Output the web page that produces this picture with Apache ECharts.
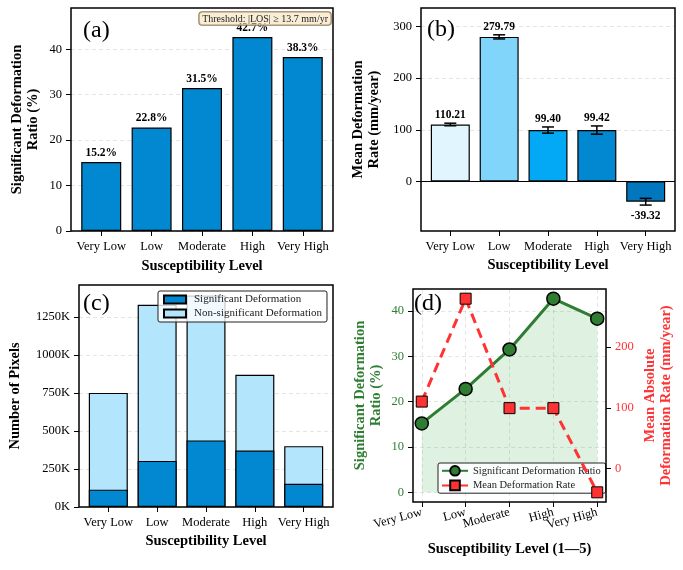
<!DOCTYPE html>
<html>
<head>
<meta charset="utf-8">
<script src="https://cdn.jsdelivr.net/npm/echarts@6.0.0/dist/echarts.min.js"></script>
<style>
  html, body { margin: 0; padding: 0; background: #fff; }
  #chart { width: 683px; height: 570px; }
</style>
</head>
<body>
<div id="chart"></div>
<script>
// 数据
const levels = ["Very Low", "Low", "Moderate", "High", "Very High"];
const sigRatio = [15.2, 22.8, 31.5, 42.7, 38.3];
const meanRate = [110.21, 279.79, 99.40, 99.42, -39.32];
const rateErr = [2.5, 4, 6, 8, 6.5];
const sigPixelsK = [114, 303, 438, 371, 153];
const nonSigPixelsK = [636, 1026, 952, 498, 247];

const ticksA = [0, 10, 20, 30, 40];
const ticksB = [0, 100, 200, 300];
const ticksC = [0, 250, 500, 750, 1000, 1250];
const ticksDLeft = [0, 10, 20, 30, 40];
const ticksDRight = [0, 100, 200];
const levelTicks = [0, 1, 2, 3, 4];
// (d) 的 X 轴标签分两组绘制，避免重叠的标签被自动隐藏
const levelTicksD1 = [0, 1, 2, 4];
const levelTicksD2 = [3];

// 样式
const FONT = '"Liberation Serif", "Times New Roman", serif';
const BAR_A = "#0288D1";
const BAR_B = ["#E1F5FE", "#81D4FA", "#03A9F4", "#0288D1", "#0277BD"];
const SIG_C = "#0288D1";
const NONSIG_C = "#B3E5FC";
const GREEN = "#2E7D32";
const RED = "#FF3333";

const chart = echarts.init(document.getElementById("chart"));

const gridLine = { show: true, lineStyle: { color: "rgba(0,0,0,0.13)", type: [4, 3], width: 0.8 } };

function xAxisCfg(gridIndex, min, max, name, nameGap, extra) {
   return Object.assign({
      type: "value",
      gridIndex: gridIndex,
      position: "bottom",
      min: min,
      max: max,
      axisLine: { show: false, onZero: false },
      axisTick: { show: true, length: 5, customValues: levelTicks, lineStyle: { color: "#000", width: 1 } },
      axisLabel: {
         customValues: levelTicks,
         formatter: (v) => levels[Math.round(v)],
         showMinLabel: true,
         showMaxLabel: true,
         margin: 9,
         color: "#000",
         fontFamily: FONT,
         fontSize: 12.5,
      },
      splitLine: { show: false },
      name: name,
      nameLocation: "middle",
      nameGap: nameGap,
      nameTextStyle: { fontFamily: FONT, fontWeight: "bold", fontSize: 14.5, color: "#000" },
   }, extra || {});
}

function yAxisCfg(gridIndex, min, max, ticks, name, nameGap, color, extra) {
   return Object.assign({
      type: "value",
      gridIndex: gridIndex,
      min: min,
      max: max,
      axisLine: { show: false, onZero: false },
      axisTick: { show: true, length: 5, customValues: ticks, lineStyle: { color: "#000", width: 1 } },
      axisLabel: {
         customValues: ticks,
         showMinLabel: true,
         showMaxLabel: true,
         margin: 9,
         color: color,
         fontFamily: FONT,
         fontSize: 12.5,
      },
      splitLine: gridLine,
      name: name,
      nameLocation: "middle",
      nameGap: nameGap,
      nameTextStyle: { fontFamily: FONT, fontWeight: "bold", fontSize: 14.5, color: color, lineHeight: 16 },
   }, extra || {});
}

function rotatedLabels(values) {
   return {
      customValues: values,
      formatter: (v) => levels[Math.round(v)],
      showMinLabel: true,
      showMaxLabel: true,
      hideOverlap: false,
      rotate: 15,
      margin: 10,
      color: "#000",
      fontFamily: FONT,
      fontSize: 12.5,
   };
}

const frame = { show: true, borderColor: "#000", borderWidth: 1.5, backgroundColor: "transparent", z: 10 };

const option = {
   backgroundColor: "#fff",
   animation: false,
   grid: [
      Object.assign({ left: 71, top: 8, width: 262, height: 223 }, frame),
      Object.assign({ left: 421, top: 8, width: 254, height: 223 }, frame),
      Object.assign({ left: 79, top: 285, width: 254, height: 222 }, frame),
      Object.assign({ left: 413, top: 289, width: 193, height: 213 }, frame),
   ],
   xAxis: [
      xAxisCfg(0, -0.6, 4.6, "Susceptibility Level", 28),
      xAxisCfg(1, -0.6, 4.6, "Susceptibility Level", 27),
      xAxisCfg(2, -0.6, 4.6, "Susceptibility Level", 27),
      xAxisCfg(3, -0.2, 4.2, "Susceptibility Level (1\u20145)", 40, {
         axisLabel: rotatedLabels(levelTicksD1),
         splitLine: gridLine,
      }),
      xAxisCfg(3, -0.2, 4.2, "", 0, {
         axisTick: { show: false },
         axisLabel: rotatedLabels(levelTicksD2),
         name: "",
      }),
   ],
   yAxis: [
      yAxisCfg(0, 0, 49.1, ticksA, "Significant Deformation\nRatio (%)", 30, "#000"),
      yAxisCfg(1, -96, 335.7, ticksB, "Mean Deformation\nRate (mm/year)", 39, "#000"),
      yAxisCfg(2, 0, 1459.5, ticksC, "Number of Pixels", 56, "#000", {
         interval: 250,
         axisLabel: {
            customValues: ticksC,
            formatter: (v) => v + "K",
            showMinLabel: true,
            showMaxLabel: true,
            margin: 9,
            color: "#000",
            fontFamily: FONT,
            fontSize: 12.5,
         },
      }),
      yAxisCfg(3, -2.135, 44.835, ticksDLeft, "Significant Deformation\nRatio (%)", 29, GREEN),
      yAxisCfg(3, -55.28, 295.75, ticksDRight, "Mean Absolute\nDeformation Rate (mm/year)", 36, RED, {
         position: "right",
         splitLine: { show: false },
      }),
   ],
   legend: [
      {
         data: ["Significant Deformation", "Non-significant Deformation"],
         orient: "vertical",
         left: 158,
         top: 291,
         icon: "rect",
         itemWidth: 22,
         itemHeight: 8,
         itemGap: 3,
         padding: [3, 5, 3, 5],
         selectedMode: false,
         backgroundColor: "rgba(255,255,255,0.8)",
         borderColor: "#222",
         borderWidth: 1,
         borderRadius: 2,
         textStyle: { fontFamily: FONT, fontSize: 11, color: "#222", padding: [0, 0, 0, 3] },
      },
      {
         data: ["Significant Deformation Ratio", "Mean Deformation Rate"],
         orient: "vertical",
         left: 438,
         top: 463,
         itemWidth: 26,
         itemHeight: 12,
         itemGap: 3,
         padding: [2, 5, 2, 3],
         selectedMode: false,
         backgroundColor: "rgba(255,255,255,0.85)",
         borderColor: "#222",
         borderWidth: 1,
         borderRadius: 2,
         textStyle: { fontFamily: FONT, fontSize: 10.5, color: "#222" },
      },
   ],
   graphic: [
      { type: "text", x: 83, y: 31, z: 100, style: { text: "(a)", font: '24px "Liberation Serif"', fill: "#000", verticalAlign: "middle" } },
      { type: "text", x: 427, y: 30, z: 100, style: { text: "(b)", font: '24px "Liberation Serif"', fill: "#000", verticalAlign: "middle" } },
      { type: "text", x: 83, y: 304, z: 100, style: { text: "(c)", font: '24px "Liberation Serif"', fill: "#000", verticalAlign: "middle" } },
      { type: "text", x: 414, y: 304, z: 100, style: { text: "(d)", font: '24px "Liberation Serif"', fill: "#000", verticalAlign: "middle" } },
      {
         type: "text",
         x: 331,
         y: 12,
         z: 100,
         style: {
            text: "Threshold: |LOS| \u2265 13.7 mm/yr",
            font: '10px "Liberation Serif"',
            fill: "#222",
            align: "right",
            verticalAlign: "top",
            backgroundColor: "rgba(245,222,179,0.55)",
            borderColor: "#8a7a5a",
            borderWidth: 0.8,
            borderRadius: 3,
            padding: [2, 3, 1, 3],
         },
      },
   ],
   series: [
      // (a)
      {
         type: "bar",
         xAxisIndex: 0,
         yAxisIndex: 0,
         barWidth: 40,
         data: sigRatio.map((v, i) => [i, v]),
         itemStyle: { color: BAR_A, borderColor: "#000", borderWidth: 1.2 },
         label: {
            show: true,
            position: "top",
            distance: 3,
            formatter: (p) => p.value[1].toFixed(1) + "%",
            fontFamily: FONT,
            fontWeight: "bold",
            fontSize: 11.5,
            color: "#000",
         },
      },
      // (b)
      {
         type: "bar",
         xAxisIndex: 1,
         yAxisIndex: 1,
         barWidth: 39,
         data: meanRate.map((v, i) => ({ value: [i, v], itemStyle: { color: BAR_B[i] } })),
         itemStyle: { borderColor: "#000", borderWidth: 1.2 },
         markLine: {
            silent: true,
            symbol: ["none", "none"],
            label: { show: false },
            lineStyle: { color: "#000", width: 1, type: "solid" },
            data: [{ yAxis: 0 }],
         },
      },
      {
         type: "custom",
         xAxisIndex: 1,
         yAxisIndex: 1,
         z: 5,
         encode: { x: 0, y: 1 },
         data: meanRate.map((v, i) => [i, v, rateErr[i]]),
         renderItem: function (params, api) {
            const x = api.value(0);
            const v = api.value(1);
            const e = api.value(2);
            const top = api.coord([x, v + e]);
            const bot = api.coord([x, v - e]);
            const cap = 6;
            const ls = { stroke: "#000", lineWidth: 1.5 };
            return {
               type: "group",
               children: [
                  { type: "line", shape: { x1: top[0], y1: top[1], x2: bot[0], y2: bot[1] }, style: ls },
                  { type: "line", shape: { x1: top[0] - cap, y1: top[1], x2: top[0] + cap, y2: top[1] }, style: ls },
                  { type: "line", shape: { x1: bot[0] - cap, y1: bot[1], x2: bot[0] + cap, y2: bot[1] }, style: ls },
                  {
                     type: "text",
                     style: {
                        text: v.toFixed(2),
                        x: top[0],
                        y: v >= 0 ? top[1] - 2 : bot[1] + 5,
                        align: "center",
                        verticalAlign: v >= 0 ? "bottom" : "top",
                        fontFamily: FONT,
                        fontWeight: "bold",
                        fontSize: 11.5,
                        fill: "#000",
                     },
                  },
               ],
            };
         },
      },
      // (c) 总量柱在下，显著柱叠在上层 (同位置重叠)
      {
         name: "Non-significant Deformation",
         type: "bar",
         xAxisIndex: 2,
         yAxisIndex: 2,
         barWidth: 39,
         barGap: "-100%",
         data: nonSigPixelsK.map((v, i) => [i, v + sigPixelsK[i]]),
         itemStyle: { color: NONSIG_C, borderColor: "#000", borderWidth: 1.2 },
      },
      {
         name: "Significant Deformation",
         type: "bar",
         xAxisIndex: 2,
         yAxisIndex: 2,
         barWidth: 39,
         barGap: "-100%",
         data: sigPixelsK.map((v, i) => [i, v]),
         itemStyle: { color: SIG_C, borderColor: "#000", borderWidth: 1.2 },
      },
      // (d)
      {
         name: "Significant Deformation Ratio",
         type: "line",
         xAxisIndex: 3,
         yAxisIndex: 3,
         data: sigRatio.map((v, i) => [i, v]),
         symbol: "circle",
         symbolSize: 13,
         lineStyle: { color: GREEN, width: 3 },
         itemStyle: { color: GREEN, borderColor: "#000", borderWidth: 1.5 },
         areaStyle: { color: "rgba(76,175,80,0.25)" },
         z: 3,
      },
      {
         name: "Mean Deformation Rate",
         type: "line",
         xAxisIndex: 3,
         yAxisIndex: 4,
         data: meanRate.map((v, i) => [i, v]),
         symbol: "rect",
         symbolSize: 11,
         lineStyle: { color: RED, width: 3, type: [10, 6] },
         itemStyle: { color: RED, borderColor: "#000", borderWidth: 1 },
         z: 4,
      },
   ],
};

chart.setOption(option);
</script>
</body>
</html>
